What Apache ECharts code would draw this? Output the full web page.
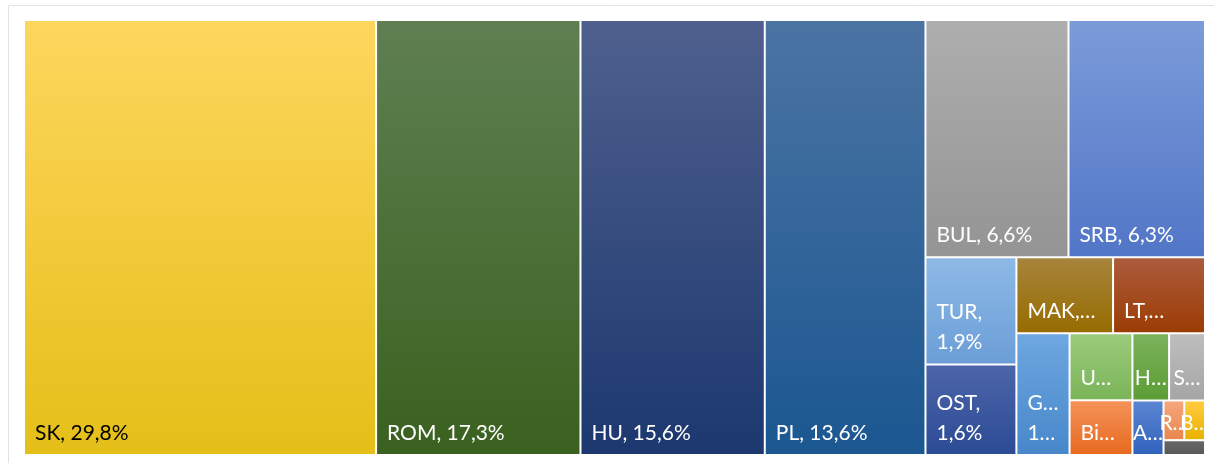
<!DOCTYPE html>
<html>
<head>
<meta charset="utf-8">
<script src="https://cdn.jsdelivr.net/npm/echarts@6/dist/echarts.min.js"></script>
<style>
  html, body { margin: 0; padding: 0; background: #ffffff; }
  #chart { width: 1214px; height: 463px; }
</style>
</head>
<body>
<div id="chart"></div>
<script>
// Shares by country, in percent
const countries = ['SK', 'ROM', 'HU', 'PL', 'BUL', 'SRB', 'TUR', 'OST', 'MAK', 'LT',
                   'GR', 'UKR', 'HR', 'SLO', 'BiH', 'ALB', 'RUS', 'BY', 'MNE'];
const shares = [29.8, 17.3, 15.6, 13.6, 6.6, 6.3, 1.9, 1.6, 1.43, 1.36,
                1.26, 0.82, 0.48, 0.47, 0.67, 0.33, 0.16, 0.16, 0.12];

// Block grouping: each pair is cut across its longer side, first member first
const rusBy = ['RUS', 'BY'];
const eastSmall = [rusBy, 'MNE'];
const albRest = ['ALB', eastSmall];
const hrSlo = ['HR', 'SLO'];
const rightCol = [hrSlo, albRest];
const ukrBih = ['UKR', 'BiH'];
const smallBlock = [ukrBih, rightCol];
const grBlock = ['GR', smallBlock];
const makLt = ['MAK', 'LT'];
const midBlock = [makLt, grBlock];
const turOst = ['TUR', 'OST'];
const lowerBlock = [turOst, midBlock];
const bulSrb = ['BUL', 'SRB'];
const restBlock = [bulSrb, lowerBlock];
const plBlock = ['PL', restBlock];
const huBlock = ['HU', plBlock];
const romBlock = ['ROM', huBlock];
const layoutTree = ['SK', romBlock];

// Cell fills, top to bottom
const fills = {
  SK:  ['#FED65E', '#E5BF18'],
  ROM: ['#5F7F52', '#3A611F'],
  HU:  ['#4F608E', '#1C386F'],
  PL:  ['#4B74A3', '#1B5791'],
  BUL: ['#AEAEAE', '#949494'],
  SRB: ['#7B9BD9', '#5276C7'],
  TUR: ['#8DB9E6', '#6B9ED7'],
  OST: ['#4D65A9', '#2B4B95'],
  MAK: ['#A7843C', '#966C00'],
  LT:  ['#AB5B3D', '#9C3C04'],
  GR:  ['#6EA7E0', '#4787CA'],
  UKR: ['#9BCB7B', '#7BB459'],
  HR:  ['#7BB25B', '#5D9D35'],
  SLO: ['#BEBEBE', '#A5A5A5'],
  BiH: ['#F49259', '#E76A20'],
  ALB: ['#5B85D1', '#3163BD'],
  RUS: ['#F6A67E', '#E9874E'],
  BY:  ['#FFCC40', '#EAB200'],
  MNE: ['#676767', '#595959']
};
const darkText = new Set(['SK']);

// How much of each label fits in its cell:
// 'wrap' = name and value on two lines, 'name' = name only,
// 'initials' = first letters of each line, a number = first letters of the name
const labelFit = {
  TUR: 'wrap', OST: 'wrap', GR: 'initials', MAK: 'name', LT: 'name',
  UKR: 1, HR: 1, SLO: 1, BiH: 2, ALB: 1, RUS: 1, BY: 1
};
const centeredLabel = new Set(['HR', 'SLO', 'ALB', 'RUS', 'BY']);
const shortCells = new Set(['RUS', 'BY']);
const hiddenLabel = new Set(['MNE']);
const ELL = '\u2026';

const fmtPct = v => v.toFixed(1).replace('.', ',') + '%';
const valueOf = name => shares[countries.indexOf(name)];

function labelText(name, value) {
  const fit = labelFit[name];
  const pct = fmtPct(value);
  if (fit === 'wrap') return name + ',\n' + pct;
  if (fit === 'initials') return name.slice(0, 1) + ELL + '\n' + pct.slice(0, 1) + ELL;
  if (fit === 'name') return name + ',' + ELL;
  if (typeof fit === 'number') return name.slice(0, fit) + ELL;
  return name + ', ' + pct;
}

function buildNode(entry) {
  if (Array.isArray(entry)) {
    return { children: entry.map(buildNode) };
  }
  const [top, bottom] = fills[entry];
  const node = {
    name: entry,
    value: valueOf(entry),
    itemStyle: {
      color: new echarts.graphic.LinearGradient(0, 0, 0, 1, [
        { offset: 0, color: top },
        { offset: 1, color: bottom }
      ])
    },
    label: {
      color: darkText.has(entry) ? '#000000' : '#ffffff',
      formatter: p => labelText(p.name, p.value)
    }
  };
  if (centeredLabel.has(entry)) {
    node.label.position = 'insideBottom';
    node.label.align = 'center';
    node.label.padding = shortCells.has(entry) ? [0, 0, 3, 0] : [0, 0, 6, 0];
    node.label.overflow = 'none';
  }
  if (shortCells.has(entry)) node.label.lineHeight = 26;
  if (typeof labelFit[entry] === 'number' || labelFit[entry] === 'initials') {
    node.label.overflow = 'none';
  }
  if (hiddenLabel.has(entry)) node.label.show = false;
  return node;
}

const chart = echarts.init(document.getElementById('chart'), null, { renderer: 'canvas' });
chart.setOption({
  animation: false,
  graphic: [{
    type: 'rect',
    silent: true,
    shape: { x: 8.5, y: 5.5, width: 1400, height: 600 },
    style: { fill: 'none', stroke: '#e3e3e3', lineWidth: 1 }
  }],
  series: [{
    type: 'treemap',
    left: 25, top: 21, width: 1179, height: 433,
    sort: false,
    squareRatio: 1,
    roam: false,
    nodeClick: false,
    breadcrumb: { show: false },
    itemStyle: { gapWidth: 2, borderWidth: 0, borderColor: '#ffffff' },
    label: {
      show: true,
      position: 'insideBottomLeft',
      distance: 0,
      padding: [0, 4, 6, 10],
      fontFamily: 'Lato',
      fontSize: 21,
      lineHeight: 30,
      overflow: 'truncate',
      ellipsis: ELL
    },
    upperLabel: { show: false },
    emphasis: { disabled: true },
    data: layoutTree.map(buildNode)
  }]
});
</script>
</body>
</html>
